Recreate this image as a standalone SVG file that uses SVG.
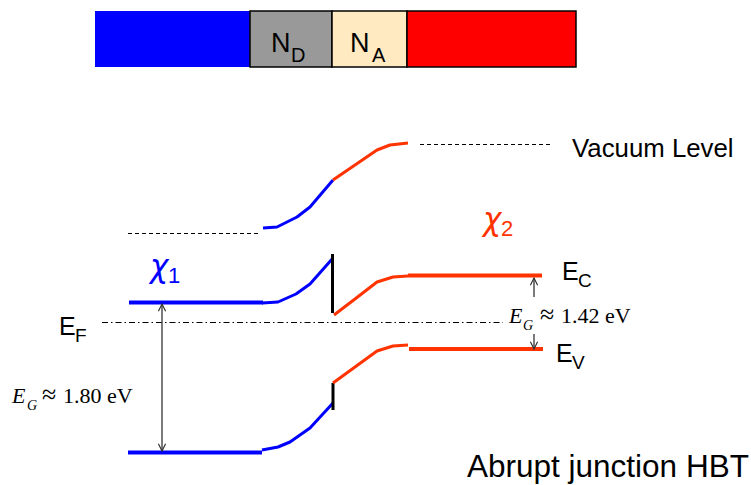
<svg xmlns="http://www.w3.org/2000/svg" width="751" height="485" viewBox="0 0 751 485">
<style>
.sans{font-family:"Liberation Sans",Arial,sans-serif;fill:#000}
.serif{font-family:"Liberation Serif","Times New Roman",serif;fill:#000}
.chi{font-family:"DejaVu Sans",sans-serif;font-style:italic}
.blue{stroke:#0000FF;fill:none}
.red{stroke:#FF3300;fill:none}
.band{stroke-width:4}
.curve{stroke-width:3;stroke-linejoin:round}
.spike{stroke:#000;stroke-width:3}
.dash{stroke:#000;stroke-width:1;stroke-dasharray:4 3;fill:none}
.dashdot{stroke:#000;stroke-width:1;stroke-dasharray:6 3 1.5 3;fill:none}
.arrow{stroke:#333;stroke-width:1.3;fill:none}
</style>
<defs>
<marker id="ah" viewBox="0 0 10 10" refX="9" refY="5" markerWidth="9" markerHeight="9" markerUnits="userSpaceOnUse" orient="auto-start-reverse">
<path d="M1,1 L9,5 L1,9" fill="none" stroke="#333" stroke-width="1.3"/>
</marker>
</defs>
<rect width="751" height="485" fill="#fff"/>

<g id="layer-emitter"><rect x="95" y="11" width="155" height="56" fill="#0000FF"/></g>
<g id="layer-nd"><rect x="250" y="11" width="82" height="56" fill="#999999" stroke="#000" stroke-width="1.5"/>
<text class="sans" x="271" y="52" font-size="27">N</text><text class="sans" x="291" y="62" font-size="20">D</text></g>
<g id="layer-na"><rect x="332" y="11" width="75" height="56" fill="#FFEAC2" stroke="#000" stroke-width="1.5"/>
<text class="sans" x="350" y="52" font-size="27">N</text><text class="sans" x="372" y="62" font-size="20">A</text></g>
<g id="layer-collector"><rect x="407" y="11" width="169" height="56" fill="#FF0000" stroke="#000" stroke-width="1.5"/></g>

<g id="vacuum-level">
<line class="dash" x1="128" y1="233.5" x2="260" y2="233.5"/>
<path class="blue curve" d="M263,228 L277,227 L297,217 L310,207 L333,180"/>
<path class="red curve" d="M333,180 L377,150 L390,145 L408,143"/>
<line class="dash" x1="420" y1="144.5" x2="552" y2="144.5"/>
<text class="sans" x="572" y="157" font-size="25.8">Vacuum Level</text>
</g>

<g id="conduction-band">
<line class="blue band" x1="129" y1="302.5" x2="263" y2="302.5"/>
<path class="blue curve" d="M262,303 L278,302 L296,294 L310,284 L333,258"/>
<line class="spike" x1="332.5" y1="254" x2="332.5" y2="313"/>
<path class="red curve" d="M334,315 L355,299 L377,282 L393,277 L408,276"/>
<line class="red band" x1="408" y1="275.5" x2="542" y2="275.5"/>
<text class="sans" x="562" y="280" font-size="25">E</text><text class="sans" x="578" y="287" font-size="19">C</text>
</g>

<g id="valence-band">
<line class="blue band" x1="128" y1="452.5" x2="262" y2="452.5"/>
<path class="blue curve" d="M262,450 L278,447 L290,442 L310,428 L333,403"/>
<line class="spike" x1="333" y1="383" x2="333" y2="410"/>
<path class="red curve" d="M333,383 L355,367 L377,351 L393,346 L408,345"/>
<line class="red band" x1="409" y1="349" x2="543" y2="349"/>
<text class="sans" x="556" y="362" font-size="25">E</text><text class="sans" x="572" y="369" font-size="19">V</text>
</g>

<g id="fermi-level">
<line class="dashdot" x1="102" y1="322.5" x2="503" y2="322.5"/>
<text class="sans" x="59" y="335" font-size="25">E</text><text class="sans" x="75" y="342" font-size="19">F</text>
</g>

<g id="chi1"><text class="chi" x="150" y="277" font-size="31" fill="#0000FF">χ</text><text class="sans" x="168" y="283" font-size="22" style="fill:#0000FF">1</text></g>
<g id="chi2"><text class="chi" x="483" y="230" font-size="31" fill="#FF3300">χ</text><text class="sans" x="501" y="236" font-size="22" style="fill:#FF3300">2</text></g>

<g id="eg-left">
<text class="serif" x="12" y="403" font-size="22" font-style="italic">E</text>
<text class="serif" x="27" y="410" font-size="14" font-style="italic">G</text>
<text class="serif" x="42" y="403" font-size="26">≈</text>
<text class="serif" x="63" y="403" font-size="22">1.80 eV</text>
</g>
<g id="eg-right">
<text class="serif" x="509" y="323" font-size="22" font-style="italic">E</text>
<text class="serif" x="523" y="330" font-size="14" font-style="italic">G</text>
<text class="serif" x="540" y="323" font-size="26">≈</text>
<text class="serif" x="561" y="323" font-size="22">1.42 eV</text>
</g>

<g id="title"><text class="sans" x="467" y="477" font-size="31.5">Abrupt junction HBT</text></g>

<g id="connectors">
<line class="arrow" x1="162" y1="304" x2="162" y2="451" marker-start="url(#ah)" marker-end="url(#ah)"/>
<line class="arrow" x1="534" y1="297" x2="534" y2="278" marker-end="url(#ah)"/>
<line class="arrow" x1="534" y1="334" x2="534" y2="349" marker-end="url(#ah)"/>
</g>
</svg>
